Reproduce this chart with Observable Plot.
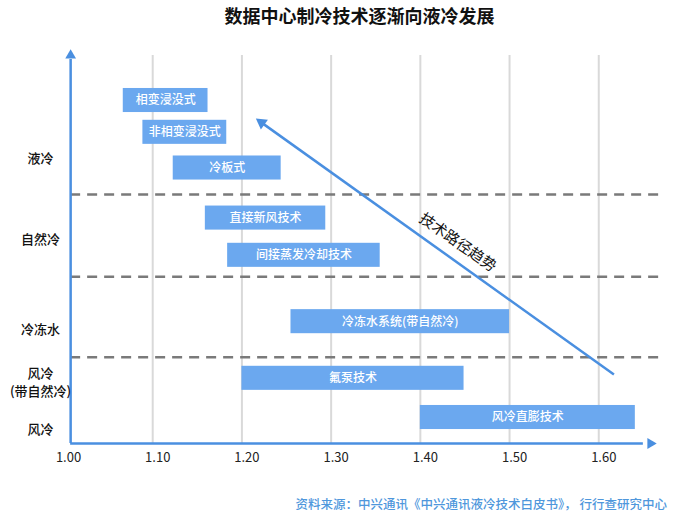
<!DOCTYPE html>
<html>
<head>
<meta charset="utf-8">
<script src="https://cdn.jsdelivr.net/npm/d3@7"></script>
<script src="https://cdn.jsdelivr.net/npm/@observablehq/plot@0.6"></script>
<style>
  html, body { margin: 0; padding: 0; background: #fff; }
  body { width: 700px; height: 517px; overflow: hidden; font-family: "Noto Sans CJK SC", "Noto Sans", sans-serif; }
  #title { height: 30px; line-height: 30px; text-align: center; padding-left: 19px; font-size: 18px; font-weight: bold; color: #111; }
  #source { text-align: right; padding-right: 33px; padding-top: 15px; font-size: 12.5px; line-height: 18px; color: #4f97dc; font-weight: 500; }
  svg { display: block; }
</style>
</head>
<body>
<div id="title">数据中心制冷技术逐渐向液冷发展</div>
<div id="chart"></div>
<div id="source">资料来源：中兴通讯《中兴通讯液冷技术白皮书》， 行行查研究中心</div>
<script>
// ---- data ----
const xTicks = [1.0, 1.1, 1.2, 1.3, 1.4, 1.5, 1.6];
const techNames = ["相变浸没式", "非相变浸没式", "冷板式", "直接新风技术", "间接蒸发冷却技术", "冷冻水系统(带自然冷)", "氟泵技术", "风冷直膨技术"];
const techStart = [1.067, 1.089, 1.123, 1.159, 1.184, 1.255, 1.200, 1.400];
const techEnd   = [1.162, 1.183, 1.244, 1.294, 1.355, 1.500, 1.449, 1.641];
const techRow   = [8.84, 8.02, 7.10, 5.81, 4.85, 3.14, 1.68, 0.67];
const catNames = ["液冷", "自然冷", "冷冻水", "风冷\n(带自然冷)", "风冷"];
const catPos   = [7.37, 5.28, 2.96, 1.60, 0.39];
const dividerPos = [6.42, 4.30, 2.22];
const trendX = [1.617, 1.222];
const trendY = [1.78, 8.27];
const trendLabel = "技术路径趋势";

const axisOrigin = 1.008;
const xMin = 1.0, xMax = 1.658;
const yMin = 0, yMax = 10;
const W = 700, H = 450, mL = 63, mR = 50, mT = 25, mB = 37;
const blue = "#4a8fe0";
const barFill = "#6ba8ef";
const barHalf = 0.31;

const bars = techNames.map((name, i) => ({name, x1: techStart[i], x2: techEnd[i], row: techRow[i]}));

// direction of the trend arrow in screen space (for the arrowhead rotation)
const kx = (W - mL - mR) / (xMax - xMin);
const ky = (H - mT - mB) / (yMax - yMin);
const sdx = (trendX[1] - trendX[0]) * kx;
const sdy = -(trendY[1] - trendY[0]) * ky;
const headRotate = Math.atan2(sdx, -sdy) * 180 / Math.PI;

const chart = Plot.plot({
  width: W,
  height: H,
  marginLeft: mL,
  marginRight: mR,
  marginTop: mT,
  marginBottom: mB,
  style: {fontFamily: "'Noto Sans CJK SC', 'Noto Sans', sans-serif", background: "#fff"},
  x: {domain: [xMin, xMax], axis: null},
  y: {domain: [yMin, yMax], axis: null},
  marks: [
    Plot.ruleX(xTicks.slice(1), {stroke: "#d9d9d9", strokeWidth: 2}),
    Plot.ruleY(dividerPos, {x1: axisOrigin, x2: 1.669, stroke: "#7a7a7a", strokeWidth: 2.5, strokeDasharray: "10,7"}),
    Plot.rect(bars, {x1: "x1", x2: "x2", y1: d => d.row - barHalf, y2: d => d.row + barHalf, fill: barFill}),
    Plot.text(bars, {x: d => (d.x1 + d.x2) / 2, y: "row", text: "name", fill: "#fff", fontSize: 12, fontWeight: 500}),
    // axes lines with arrowheads
    Plot.ruleY([0], {x1: axisOrigin, x2: xMax - 0.008, stroke: blue, strokeWidth: 2.5}),
    Plot.dot([{x: xMax, y: 0}], {x: "x", y: "y", symbol: "triangle", r: 4, fill: blue, rotate: 90}),
    Plot.ruleX([axisOrigin], {y1: 0, y2: 9.9, stroke: blue, strokeWidth: 2.5}),
    Plot.dot([{x: axisOrigin, y: 10}], {x: "x", y: "y", symbol: "triangle", r: 4, fill: blue}),
    Plot.axisX(xTicks, {tickFormat: d3.format(".2f"), tickSize: 0, tickPadding: 9, fontSize: 13, dx: 5, fill: "#222"}),
    Plot.axisY(catPos, {tickFormat: d => catNames[catPos.indexOf(d)], tickSize: 0, tickPadding: 23, textAnchor: "middle", fontSize: 13, lineHeight: 1.4, fontWeight: 500, fill: "#111"}),
    // trend arrow
    Plot.link([{x1: trendX[0], y1: trendY[0], x2: trendX[1], y2: trendY[1]}], {x1: "x1", y1: "y1", x2: "x2", y2: "y2", stroke: blue, strokeWidth: 2.5}),
    Plot.dot([{x: trendX[1], y: trendY[1]}], {x: "x", y: "y", symbol: "triangle", r: 4.5, fill: blue, rotate: headRotate}),
    Plot.text([{x: 1.442, y: 5.18, t: trendLabel}], {x: "x", y: "y", text: "t", rotate: 35, fontSize: 15, fill: "#111"})
  ]
});
document.getElementById("chart").appendChild(chart);
</script>
</body>
</html>
